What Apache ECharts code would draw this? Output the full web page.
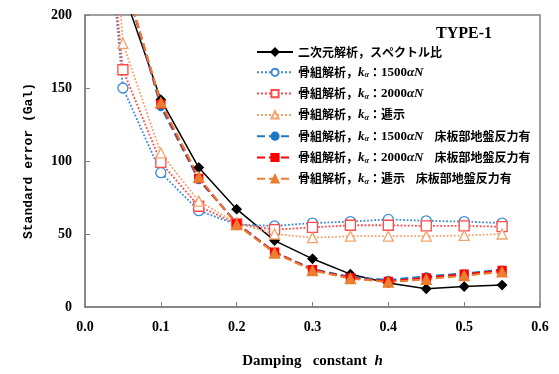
<!DOCTYPE html>
<html>
<head>
<meta charset="utf-8">
<script src="https://cdn.jsdelivr.net/npm/echarts@6/dist/echarts.min.js"></script>
<style>
  html, body { margin: 0; padding: 0; background: #fff; }
  #chart { width: 559px; height: 374px; }
</style>
</head>
<body>
<div id="chart"></div>
<script>
// Damping constant h at each analysis point
const damping = [0.03, 0.05, 0.10, 0.15, 0.20, 0.25, 0.30, 0.35, 0.40, 0.45, 0.50, 0.55];

// Standard error (Gal) for each case
const spectralRatio2D  = [null, 217, 142, 95.5, 67, 45.5, 33, 22.5, 16.5, 12.5, 14, 15];
const frame1500        = [265, 150, 92, 66, 56.5, 55.5, 57.5, 58.5, 60, 59, 58.5, 57.5];
const frame2000        = [265, 162.5, 99, 69, 57, 53, 54.5, 56, 56, 55.5, 55.5, 55];
const frameGradual     = [330, 180.5, 105.5, 72.5, 57.5, 50, 47.5, 48.5, 48.5, 48.5, 49, 50];
const frame1500Slab    = [null, 228, 137, 87, 57.5, 37.5, 26, 20.5, 18.5, 21, 23, 25.5];
const frame2000Slab    = [null, 228, 139, 88, 57, 37.5, 25.5, 20, 17.5, 20, 22.5, 25];
const frameGradualSlab = [null, 228, 140, 89, 56.5, 37, 25, 19.5, 17, 19, 21.5, 24];

const xTicks = ['0.0', '0.1', '0.2', '0.3', '0.4', '0.5', '0.6'];
const yTicks = ['0', '50', '100', '150', '200'];

const seriesNames = [
  '二次元解析，スペクトル比',
  '骨組解析，kα：1500αN',
  '骨組解析，kα：2000αN',
  '骨組解析，kα：逓示',
  '骨組解析，kα：1500αN　床板部地盤反力有',
  '骨組解析，kα：2000αN　床板部地盤反力有',
  '骨組解析，kα：逓示　床板部地盤反力有'
];
const legendRich = [
  '{j|二次元解析，スペクトル比}',
  '{j|骨組解析，}{k|k}{s|α}{j|：}{n|1500}{k|αN}',
  '{j|骨組解析，}{k|k}{s|α}{j|：}{n|2000}{k|αN}',
  '{j|骨組解析，}{k|k}{s|α}{j|：逓示}',
  '{j|骨組解析，}{k|k}{s|α}{j|：}{n|1500}{k|αN}{j|    床板部地盤反力有}',
  '{j|骨組解析，}{k|k}{s|α}{j|：}{n|2000}{k|αN}{j|    床板部地盤反力有}',
  '{j|骨組解析，}{k|k}{s|α}{j|：逓示    床板部地盤反力有}'
];

const pair = arr => damping.map((h, i) => [h, arr[i]]);

const serif = '"Liberation Serif", "Times New Roman", serif';
const cjk = '"Noto Sans CJK JP", sans-serif';

function lineSeries(name, values, color, type, symbol, size, fill, width) {
  return {
    name: name,
    type: 'line',
    data: pair(values),
    connectNulls: false,
    clip: true,
    symbol: symbol,
    symbolSize: size,
    lineStyle: { color: color, width: width, type: type },
    itemStyle: { color: fill, borderColor: color, borderWidth: 1.3 },
    emphasis: { disabled: true },
    animation: false
  };
}

const chart = echarts.init(document.getElementById('chart'), null, { renderer: 'canvas' });

chart.setOption({
  backgroundColor: '#ffffff',
  animation: false,
  title: {
    text: 'TYPE-1',
    left: 431,
    top: 21,
    textStyle: { fontFamily: serif, fontWeight: 'bold', fontSize: 16, color: '#000' }
  },
  grid: {
    left: 85, right: 19, top: 15, bottom: 66,
    show: true, borderColor: '#808080', borderWidth: 1.5
  },
  legend: {
    orient: 'vertical',
    left: 251,
    top: 41,
    itemWidth: 36,
    itemHeight: 9,
    itemGap: 7.8,
    selectedMode: false,
    data: seriesNames,
    formatter: name => legendRich[seriesNames.indexOf(name)],
    textStyle: {
      color: '#000',
      rich: {
        j: { fontFamily: cjk, fontWeight: 'bold', fontSize: 12, color: '#000' },
        k: { fontFamily: serif, fontWeight: 'bold', fontStyle: 'italic', fontSize: 13, color: '#000' },
        s: { fontFamily: serif, fontWeight: 'bold', fontStyle: 'italic', fontSize: 8, color: '#000', padding: [6, 0, 0, 0] },
        n: { fontFamily: serif, fontWeight: 'bold', fontSize: 13, color: '#000' }
      }
    }
  },
  xAxis: {
    type: 'value',
    min: 0, max: 0.6, interval: 0.1,
    name: '{t|Damping   constant  }{h|h}',
    nameLocation: 'middle',
    nameGap: 47,
    nameTextStyle: {
      rich: {
        t: { fontFamily: serif, fontWeight: 'bold', fontSize: 15, color: '#000' },
        h: { fontFamily: serif, fontWeight: 'bold', fontStyle: 'italic', fontSize: 15, color: '#000' }
      }
    },
    axisLine: { show: true, lineStyle: { color: '#808080', width: 1.5 } },
    axisTick: { show: true, inside: true, length: 5, lineStyle: { color: '#808080' } },
    axisLabel: {
      margin: 13,
      fontFamily: serif, fontWeight: 'bold', fontSize: 14, color: '#000',
      formatter: v => xTicks[Math.round(v * 10)]
    },
    splitLine: { show: false }
  },
  yAxis: {
    type: 'value',
    min: 0, max: 200, interval: 50,
    name: 'Standard error (Gal)',
    nameLocation: 'middle',
    nameGap: 50,
    nameTextStyle: { fontFamily: '"Liberation Mono", monospace', fontWeight: 'bold', fontSize: 13, color: '#000' },
    axisLine: { show: true, lineStyle: { color: '#808080', width: 1.5 } },
    axisTick: { show: true, inside: true, length: 5, lineStyle: { color: '#808080' } },
    axisLabel: {
      margin: 13,
      fontFamily: serif, fontWeight: 'bold', fontSize: 14, color: '#000',
      formatter: v => yTicks[Math.round(v / 50)]
    },
    splitLine: { show: false }
  },
  series: [
    lineSeries(seriesNames[0], spectralRatio2D, '#000000', 'solid', 'diamond', 9, '#000000', 1.5),
    lineSeries(seriesNames[1], frame1500, '#3d8bd4', 'dotted', 'circle', 10, '#ffffff', 1.8),
    lineSeries(seriesNames[2], frame2000, '#ff4a4a', 'dotted', 'rect', 10, '#ffffff', 1.8),
    lineSeries(seriesNames[3], frameGradual, '#f4a36c', 'dotted', 'triangle', 10, '#ffffff', 1.8),
    lineSeries(seriesNames[4], frame1500Slab, '#1f78c8', 'dashed', 'circle', 7, '#1f78c8', 2),
    lineSeries(seriesNames[5], frame2000Slab, '#ff0000', 'dashed', 'rect', 8, '#ff0000', 2),
    lineSeries(seriesNames[6], frameGradualSlab, '#ed7d31', 'dashed', 'triangle', 10, '#ed7d31', 2)
  ]
});
</script>
</body>
</html>
